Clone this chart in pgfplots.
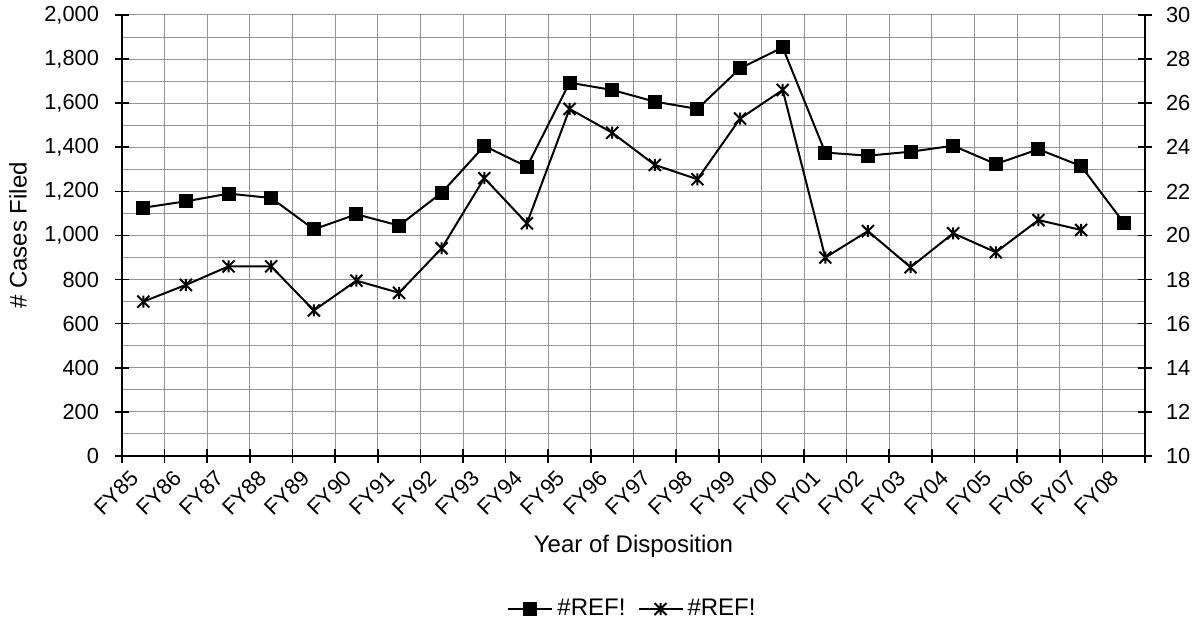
\documentclass[border=0pt]{standalone}
\usepackage{fontspec}
\setmainfont{Liberation Sans}
\usepackage{pgfplots}
\usepackage{pgfplotstable}
\pgfplotsset{compat=1.18}

\pgfdeclareplotmark{xstar}{%
  \pgfpathmoveto{\pgfqpoint{-\pgfplotmarksize}{-\pgfplotmarksize}}%
  \pgfpathlineto{\pgfqpoint{\pgfplotmarksize}{\pgfplotmarksize}}%
  \pgfpathmoveto{\pgfqpoint{-\pgfplotmarksize}{\pgfplotmarksize}}%
  \pgfpathlineto{\pgfqpoint{\pgfplotmarksize}{-\pgfplotmarksize}}%
  \pgfpathmoveto{\pgfqpoint{0pt}{-\pgfplotmarksize}}%
  \pgfpathlineto{\pgfqpoint{0pt}{\pgfplotmarksize}}%
  \pgfusepathqstroke
}

\pgfplotstableread{
x cases
0 1126
1 1155
2 1190
3 1170
4 1028
5 1096
6 1045
7 1194
8 1406
9 1312
10 1693
11 1660
12 1607
13 1574
14 1758
15 1853
16 1376
17 1362
18 1380
19 1407
20 1324
21 1391
22 1315
23 1058
}\casestable

\pgfplotstableread{
x val
0 17.0
1 17.76
2 18.6
3 18.6
4 16.6
5 17.95
6 17.4
7 19.42
8 22.6
9 20.55
10 25.74
11 24.66
12 23.2
13 22.55
14 25.3
15 26.6
16 19.0
17 20.2
18 18.56
19 20.1
20 19.24
21 20.7
22 20.25
}\startable

\begin{document}
\begin{tikzpicture}
\useasboundingbox (-61pt,-84.5pt) rectangle (536pt,228pt);
\pgfplotsset{
  every axis/.append style={
    scale only axis, width=511.5pt, height=220.5pt,
    at={(0pt,0pt)}, anchor=south west,
    xmin=-0.5, xmax=23.5,
    tick align=center, major tick length=7pt,
    axis line style={-, line width=1pt, black},
    every tick/.style={black, line width=0.8pt},
    /pgf/number format/assume math mode=true,
    /pgf/number format/1000 sep={,},
    tick label style={font=\fontsize{10.9}{13}\selectfont},
    label style={font=\fontsize{12}{14}\selectfont},
  },
}
\begin{axis}[
  axis y line*=left, axis x line*=bottom,
  ymin=0, ymax=2000,
  ytick={0,200,...,2000},
  minor y tick num=1,
  minor tick length=0pt,
  ymajorgrids, yminorgrids, xmajorgrids,
  grid style={draw=black!42, line width=0.5pt},
  xtick={-0.5,0.5,...,23.5},
  xticklabels={},
  extra x ticks={0,1,...,23},
  extra x tick labels={FY85,FY86,FY87,FY88,FY89,FY90,FY91,FY92,FY93,FY94,FY95,FY96,FY97,FY98,FY99,FY00,FY01,FY02,FY03,FY04,FY05,FY06,FY07,FY08},
  extra x tick style={grid=none, major tick length=0pt,
    xticklabel style={xshift=-7pt, yshift=-1.5pt, rotate=45, anchor=north east}},
  yticklabel style={xshift=-4.5pt},
  xlabel={Year of Disposition},
  xlabel style={at={(axis description cs:0.5,-0.205)}, anchor=center},
  ylabel={\# Cases Filed},
  ylabel style={at={(axis description cs:-0.1017,0.5)}, anchor=center, rotate=0},
]
\addplot[black, line width=1pt, mark=square*, mark size=3pt] table[x=x, y=cases] {\casestable};
\end{axis}
\begin{axis}[
  axis y line*=right, axis x line=none,
  ymin=10, ymax=30,
  ytick={10,12,...,30},
  yticklabel style={xshift=3.5pt},
  legend columns=2,
  legend style={at={(0.5,-0.347)}, anchor=center, draw=none, fill=none,
    font=\fontsize{12}{14}\selectfont,
    /tikz/every even column/.append style={column sep=4pt}},
  legend image code/.code={\draw[mark repeat=2, mark phase=2, #1] plot coordinates {(0pt,0pt) (11pt,0pt) (22pt,0pt)};},
]
\addlegendimage{black, line width=1pt, mark=square*, mark size=3pt}
\addlegendentry{\#REF!}
\addplot[black, line width=1pt, mark=xstar, mark size=3pt, mark options={line width=1pt}] table[x=x, y=val] {\startable};
\addlegendentry{\#REF!}
\end{axis}
\end{tikzpicture}
\end{document}
